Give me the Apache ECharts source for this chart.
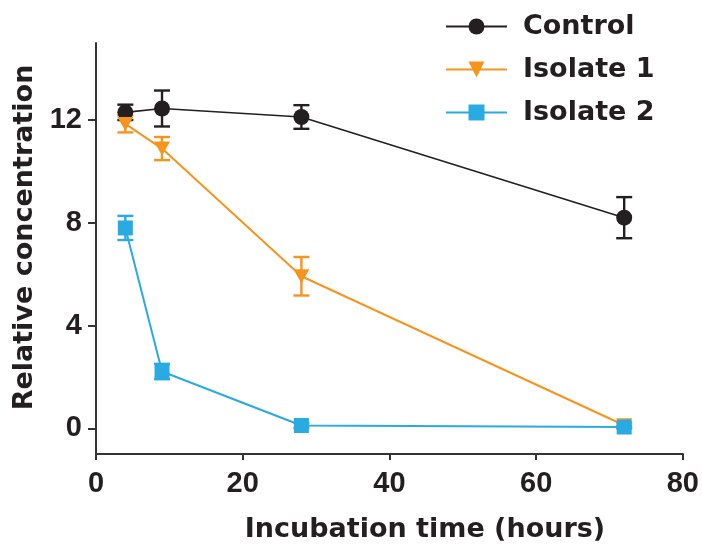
<!DOCTYPE html>
<html>
<head>
<meta charset="utf-8">
<script src="https://cdn.jsdelivr.net/npm/echarts@6/dist/echarts.min.js"></script>
<style>
html,body{margin:0;padding:0;background:#fff;}
#chart{width:702px;height:548px;}
</style>
</head>
<body>
<div id="chart"></div>
<script>
// ---- data ----
var timesHours = [4, 9, 28, 72];
var controlMean = [12.3, 12.45, 12.12, 8.2];
var controlErr = [0.3, 0.7, 0.46, 0.8];
var isolate1Mean = [11.85, 10.89, 5.92, 0.12];
var isolate1Err = [0.33, 0.45, 0.75, 0.1];
var isolate2Mean = [7.8, 2.21, 0.11, 0.05];
var isolate2Err = [0.47, 0.3, 0.1, 0.05];
var yTickValues = [0, 4, 8, 12];
var seriesNames = ['Control', 'Isolate 1', 'Isolate 2'];

var colors = ['#231f20', '#f7941d', '#29abe2'];

function pts(means) {
  return timesHours.map(function (t, i) { return [t, means[i]]; });
}
function errs(means, e) {
  return timesHours.map(function (t, i) { return [t, means[i] - e[i], means[i] + e[i]]; });
}
function errSeries(data, color) {
  return {
    type: 'custom',
    name: 'err',
    silent: true,
    data: data,
    z: 2,
    renderItem: function (params, api) {
      var x = api.value(0);
      var lo = api.coord([x, api.value(1)]);
      var hi = api.coord([x, api.value(2)]);
      var hw = 8;
      var st = { stroke: color, lineWidth: 2.4, fill: null };
      return {
        type: 'group',
        children: [
          { type: 'line', shape: { x1: lo[0], y1: lo[1], x2: hi[0], y2: hi[1] }, style: st },
          { type: 'line', shape: { x1: lo[0] - hw, y1: lo[1], x2: lo[0] + hw, y2: lo[1] }, style: st },
          { type: 'line', shape: { x1: hi[0] - hw, y1: hi[1], x2: hi[0] + hw, y2: hi[1] }, style: st }
        ]
      };
    }
  };
}

var chart = echarts.init(document.getElementById('chart'), null, { renderer: 'canvas' });
var tickFont = { fontFamily: 'Liberation Sans', fontWeight: 'bold', fontSize: 29, color: '#231f20' };
var titleFont = { fontFamily: 'DejaVu Sans', fontWeight: 'bold', fontSize: 27, color: '#231f20' };

chart.setOption({
  animation: false,
  backgroundColor: '#ffffff',
  grid: { left: 96, right: 17, top: 43, bottom: 92, containLabel: false },
  legend: {
    data: seriesNames,
    orient: 'vertical',
    left: 445,
    top: 13,
    itemWidth: 61,
    itemHeight: 20,
    itemGap: 16,
    padding: 0,
    textStyle: Object.assign({ padding: [0, 0, 0, 11] }, titleFont)
  },
  xAxis: {
    type: 'value',
    min: 0, max: 80, interval: 20,
    name: 'Incubation time (hours)',
    nameLocation: 'middle',
    nameGap: 62,
    nameTextStyle: Object.assign({ padding: [0, 0, 0, 71] }, titleFont),
    axisLine: { onZero: false, lineStyle: { color: '#333', width: 2 } },
    axisTick: { length: 6, lineStyle: { color: '#333', width: 2 } },
    axisLabel: Object.assign({ margin: 15 }, tickFont),
    splitLine: { show: false }
  },
  yAxis: {
    type: 'value',
    min: -1, max: 15,
    name: 'Relative concentration',
    nameLocation: 'middle',
    nameGap: 58,
    nameTextStyle: Object.assign({ padding: [0, 0, 0, 22] }, titleFont),
    axisLine: { show: true, onZero: false, lineStyle: { color: '#333', width: 2 } },
    axisTick: { show: true, length: 8, customValues: yTickValues, lineStyle: { color: '#333', width: 2 } },
    axisLabel: Object.assign({ margin: 14, customValues: yTickValues }, tickFont),
    splitLine: { show: false }
  },
  series: [
    errSeries(errs(controlMean, controlErr), colors[0]),
    {
      name: seriesNames[0], type: 'line', data: pts(controlMean), z: 3,
      symbol: 'circle', symbolSize: 16,
      itemStyle: { color: colors[0] },
      lineStyle: { color: colors[0], width: 1.6 }
    },
    errSeries(errs(isolate1Mean, isolate1Err), colors[1]),
    {
      name: seriesNames[1], type: 'line', data: pts(isolate1Mean), z: 3,
      symbol: 'triangle', symbolSize: [16, 14], symbolRotate: 180,
      itemStyle: { color: colors[1] },
      lineStyle: { color: colors[1], width: 2 }
    },
    errSeries(errs(isolate2Mean, isolate2Err), colors[2]),
    {
      name: seriesNames[2], type: 'line', data: pts(isolate2Mean), z: 3,
      symbol: 'rect', symbolSize: 15,
      itemStyle: { color: colors[2] },
      lineStyle: { color: colors[2], width: 2 }
    }
  ]
});
</script>
</body>
</html>
